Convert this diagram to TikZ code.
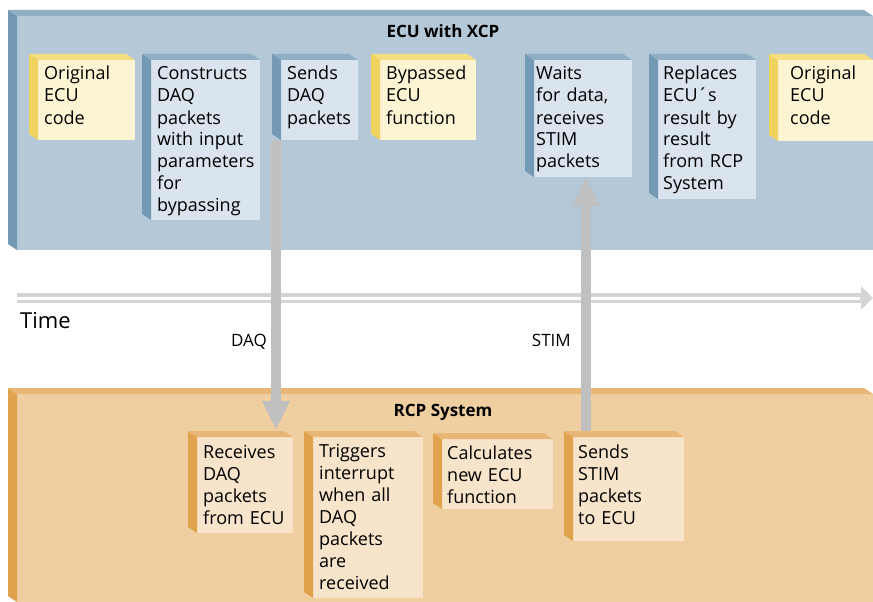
\documentclass[tikz,border=0pt]{standalone}
\usepackage{fontspec}
\setmainfont{Open Sans}
\usetikzlibrary{arrows.meta,calc,positioning}

\definecolor{ecupanel}{HTML}{B4C8D8}
\definecolor{ecuside}{HTML}{7399B4}
\definecolor{ecutop}{HTML}{8FAEC4}
\definecolor{ecubox}{HTML}{D9E4EE}
\definecolor{origbox}{HTML}{FCF4D2}
\definecolor{origside}{HTML}{F0D35E}
\definecolor{origtop}{HTML}{F5DD80}
\definecolor{rcppanel}{HTML}{EFCFA0}
\definecolor{rcpside}{HTML}{E1A24E}
\definecolor{rcptop}{HTML}{E8B676}
\definecolor{rcpbox}{HTML}{F7E4CA}
\definecolor{arrowgray}{HTML}{C0C0C0}
\definecolor{timegray}{HTML}{D4D4D4}

\tikzset{
  box/.style={anchor=north west, inner sep=0pt, outer sep=0pt},
  blue panel/.style={box, fill=ecupanel},
  orange panel/.style={box, fill=rcppanel},
  blue box/.style={box, fill=ecubox},
  yellow box/.style={box, fill=origbox},
  orange box/.style={box, fill=rcpbox},
  blue side/.style={fill=ecuside}, blue top/.style={fill=ecutop},
  yellow side/.style={fill=origside}, yellow top/.style={fill=origtop},
  orange side/.style={fill=rcpside}, orange top/.style={fill=rcptop},
  boxtext/.style={anchor=base west, inner sep=0pt, align=left, font=\fontsize{18}{22}\selectfont},
  title/.style={anchor=base, inner sep=0pt, font=\fontsize{17}{20}\selectfont\bfseries},
  flow/.style={draw=arrowgray, line width=10pt, -{Triangle[length=29pt,width=26pt]}},
  flowlabel/.style={anchor=base east, inner sep=0pt, font=\fontsize{17}{20}\selectfont},
  timeaxis/.style={draw=timegray, line width=10pt, -{Triangle[length=12pt,width=23pt]}},
}

% side and top face of a node, seen from the upper left
\newcommand{\faces}[2]{%
  \fill[#2 side] (#1.north west) -- ++(-9,-6) -- ($(#1.south west)+(-9,-6)$) -- (#1.south west) -- cycle;
  \fill[#2 top] (#1.north west) -- ++(-9,-6) -- ($(#1.north east)+(-9,-6)$) -- (#1.north east) -- cycle;
}
% [text pad]{name}{colour}{front corner}{width}{height}{text}
\newcommand{\drawcube}[7][6]{%
  \node[#3 box, minimum width=#5, minimum height=#6] (#2) at (#4) {};
  \faces{#2}{#3}
  \node[boxtext, text width=#5-#1] (#2-txt) at ($(#2.north west)+(#1,20)$) {#7};
}

\begin{document}
\begin{tikzpicture}[x=1pt, y=-1pt]
  \useasboundingbox (0,0) rectangle (873,602);

  % panels
  \node[blue panel, minimum width=856, minimum height=234] (ecu) at (17,16) {};
  \faces{ecu}{blue}
  \node[title] (ecutitle) at (443,38) {ECU with XCP};
  \node[orange panel, minimum width=856, minimum height=208] (rcp) at (17,394) {};
  \faces{rcp}{orange}
  \node[title] (rcptitle) at (443,416) {RCP System};

  % time axis
  \coordinate (t0) at (17,298);
  \coordinate (t1) at (873,298);
  \draw[timeaxis] (t0) -- (t1);
  \draw[white, line width=2.5pt] ($(t0)+(0,0.5)$) -- ($(t1)+(-13,0.5)$);
  \node[anchor=base west, inner sep=0pt, font=\fontsize{22}{26}\selectfont] (time) at (20,328) {Time};

  % ECU steps
  \drawcube{orig1}{yellow}{38,60}{97}{80}{Original\\ECU\\code}
  \drawcube{construct}{blue}{151,60}{109}{160}{Constructs\\DAQ\\packets\\with input\\parameters\\for\\bypassing}
  \drawcube{sends}{blue}{281,60}{77}{80}{Sends\\DAQ\\packets}
  \drawcube{bypass}{yellow}{380,60}{96}{80}{Bypassed\\ECU\\function}
  \drawcube[2]{waits}{blue}{534,60}{98}{117}{Waits\\for data,\\receives\\STIM\\packets}
  \drawcube[5]{replaces}{blue}{658,60}{98}{139}{Replaces\\ECU´s\\result by\\result\\from RCP\\System}
  \drawcube[12]{orig2}{yellow}{778,60}{95}{81}{Original\\ECU\\code}

  % RCP steps
  \coordinate (daqx) at (276,0);
  \coordinate (stimx) at (586,0);
  \node[orange box, minimum width=96, minimum height=96] (recv) at (197,437) {};
  \node[orange box, minimum width=111, minimum height=104] (sendstim) at (573,437) {};

  \draw[flow] (sends.south west -| daqx) -- ($(recv.north -| daqx)+(0,-7)$);
  \draw[flow] (sendstim.north -| stimx) -- (waits.south -| stimx);
  \node[flowlabel] (daqlabel) at (267,346) {DAQ};
  \node[flowlabel] (stimlabel) at (571,346) {STIM};

  \faces{recv}{orange}
  \node[boxtext, text width=90] (recv-txt) at ($(recv.north west)+(6,21)$) {Receives\\DAQ\\packets\\from ECU};
  \drawcube{trig}{orange}{313,437}{110}{161}{Triggers\\interrupt\\when all\\DAQ\\packets\\are\\received}
  \drawcube[5]{calc}{orange}{442,439}{111}{70}{Calculates\\new ECU\\function}
  \faces{sendstim}{orange}
  \node[boxtext, text width=105] (sendstim-txt) at ($(sendstim.north west)+(5,21)$) {Sends\\STIM\\packets\\to ECU};
\end{tikzpicture}
\end{document}
